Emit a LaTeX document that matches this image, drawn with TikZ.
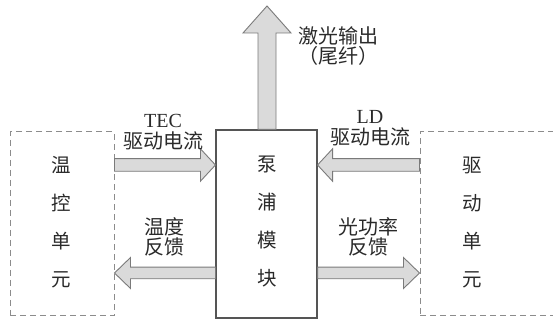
\documentclass[tikz,border=0pt]{standalone}
\usepackage{fontspec}
\setmainfont{Liberation Serif}
\newfontfamily\cjk{Noto Sans CJK SC}
\usetikzlibrary{calc}
\definecolor{arrfill}{HTML}{DADADA}
\definecolor{arrline}{HTML}{7A7A7A}
\definecolor{dashline}{HTML}{8C8C8C}
\definecolor{boxline}{HTML}{555555}
\definecolor{txt}{HTML}{2A2A2A}
\tikzset{
  fatarr/.style={draw=arrline, fill=arrfill, line width=0.9pt, line join=miter},
  dashbox/.style={draw=dashline, dash pattern=on 6pt off 4pt, line width=1pt, inner sep=0pt},
  mainbox/.style={draw=boxline, line width=1.1pt, inner sep=0pt, fill=white},
  vtext/.style={text=txt, align=center, inner sep=0pt, font=\cjk\fontsize{19.5}{38}\selectfont},
  lbl/.style={text=txt, align=center, inner sep=0pt, font=\fontsize{20}{20.5}\selectfont},
}
\newcommand\fatarrow[5]{%
  \coordinate (fh) at ($(#2)!#5!(#1)$);
  \draw[fatarr] ($(#1)!#3!-90:(#2)$) -- ($(fh)!#3!-90:(#2)$) -- ($(fh)!#4!-90:(#2)$)
    -- (#2) -- ($(fh)!#4!90:(#2)$) -- ($(fh)!#3!90:(#2)$) -- ($(#1)!#3!90:(#2)$) -- cycle;}
\begin{document}
\begin{tikzpicture}[x=1pt,y=1pt]
\useasboundingbox (0,0) rectangle (553,320);
\clip (0,0) rectangle (553,320);
% boxes
\node[dashbox, minimum width=104pt, minimum height=184pt] (L) at (62,96) {};
\node[dashbox, minimum width=150pt, minimum height=184pt] (R) at (495,96) {};
\node[mainbox, minimum width=101pt, minimum height=188pt] (P) at (266.5,96) {};
% box texts
\node[vtext] (Lt) at (61,97.5) {温\\控\\单\\元};
\node[vtext] (Pt) at (267,98.5) {泵\\浦\\模\\块};
\node[vtext] (Rt) at (472,97.5) {驱\\动\\单\\元};
% arrow end points
\coordinate (upS) at (P.north -| 267,0);
\coordinate (upE) at (267,314);
\coordinate (tecS) at (L.east |- 0,155);
\coordinate (tecE) at (P.west |- 0,155);
\coordinate (ldS) at (R.west |- 0,155);
\coordinate (ldE) at (P.east |- 0,155);
\coordinate (tfS) at (P.west |- 0,47);
\coordinate (tfE) at (L.east |- 0,47);
\coordinate (opS) at (P.east |- 0,47);
\coordinate (opE) at (R.west |- 0,47);
% fat arrows
\fatarrow{upS}{upE}{9pt}{24pt}{27pt}
\fatarrow{tecS}{tecE}{6.3pt}{16.2pt}{15pt}
\fatarrow{ldS}{ldE}{6.3pt}{16.2pt}{15pt}
\fatarrow{tfS}{tfE}{5.8pt}{15.5pt}{16pt}
\fatarrow{opS}{opE}{5.8pt}{15.5pt}{16pt}
% labels
\node[lbl] (out) at (338,274) {{\cjk 激光输出}\\{\cjk （尾纤）}};
\node[lbl] (tec) at (163,188) {TEC\\{\cjk 驱动电流}};
\node[lbl] (ld) at (370,192) {LD\\{\cjk 驱动电流}};
\node[lbl] (tf) at (164,83) {{\cjk 温度}\\{\cjk 反馈}};
\node[lbl] (op) at (368,83) {{\cjk 光功率}\\{\cjk 反馈}};
\end{tikzpicture}
\end{document}
